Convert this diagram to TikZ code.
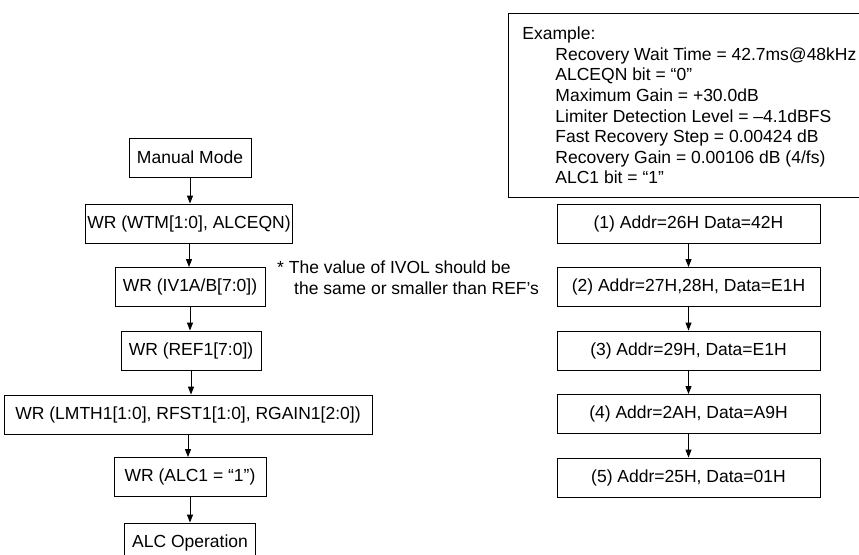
\documentclass[tikz,border=0pt]{standalone}
\usepackage{fontspec}
\setmainfont{Liberation Sans}
\usetikzlibrary{arrows.meta}
\tikzset{
  stepbox/.style={draw, line width=0.9pt, minimum height=39pt, inner xsep=2pt},
  flow/.style={line width=0.9pt, -{Triangle[length=8pt, width=6pt]}}
}

\begin{document}
\begin{tikzpicture}[x=1pt, y=-1pt, every node/.style={font=\fontsize{17.5}{20.6}\selectfont}]
    \useasboundingbox (0,0) rectangle (859,554);
    % left column: register writes
    \node[stepbox, minimum width=122pt] (manual) at (190,157.5) {Manual Mode};
    \node[stepbox, minimum width=203pt] (wtm) at (189,223.5) {WR (WTM[1:0], ALCEQN)};
    \node[stepbox, minimum width=150pt] (ivol) at (190,287) {WR (IV1A/B[7:0])};
    \node[stepbox, minimum width=140pt] (ref) at (191,350.5) {WR (REF1[7:0])};
    \node[stepbox, minimum width=368pt] (lmth) at (188,414.5) {WR (LMTH1[1:0], RFST1[1:0], RGAIN1[2:0])};
    \node[stepbox, minimum width=152pt] (alcon) at (190,477) {WR (ALC1 = “1”)};
    \node[stepbox, minimum width=131pt] (alcop) at (190,542.5) {ALC Operation};
    \node[anchor=north west, align=left, inner sep=0pt] (note) at (277,261)
      {* The value of IVOL should be\\ \hspace*{17pt}the same or smaller than REF’s};
    % right column: example values
    \node[draw, line width=0.9pt, anchor=north west, minimum height=184pt, inner xsep=7.5pt,
      align=left] (example) at (508,13)
      {\hspace*{6.5pt}Example:\\
       \hspace*{39.5pt}Recovery Wait Time = 42.7ms@48kHz\\
       \hspace*{39.5pt}ALCEQN bit = “0”\\
       \hspace*{39.5pt}Maximum Gain = +30.0dB\\
       \hspace*{39.5pt}Limiter Detection Level = –4.1dBFS\\
       \hspace*{39.5pt}Fast Recovery Step = 0.00424 dB\\
       \hspace*{39.5pt}Recovery Gain = 0.00106 dB (4/fs)\\
       \hspace*{39.5pt}ALC1 bit = “1”};
    \node[stepbox, minimum width=263pt] (wr1) at (688.5,223.5) {(1) Addr=26H Data=42H};
    \node[stepbox, minimum width=263pt] (wr2) at (688.5,287) {(2) Addr=27H,28H, Data=E1H};
    \node[stepbox, minimum width=263pt] (wr3) at (688.5,350.5) {(3) Addr=29H, Data=E1H};
    \node[stepbox, minimum width=263pt] (wr4) at (688.5,414) {(4) Addr=2AH, Data=A9H};
    \node[stepbox, minimum width=263pt] (wr5) at (688.5,477.5) {(5) Addr=25H, Data=01H};
    \foreach \a/\b in {manual/wtm, wtm/ivol, ivol/ref, ref/lmth, lmth/alcon, alcon/alcop,
                       wr1/wr2, wr2/wr3, wr3/wr4, wr4/wr5}
      \draw[flow] (\a.south) -- (\a.south |- \b.north);
  \end{tikzpicture}
\end{document}
